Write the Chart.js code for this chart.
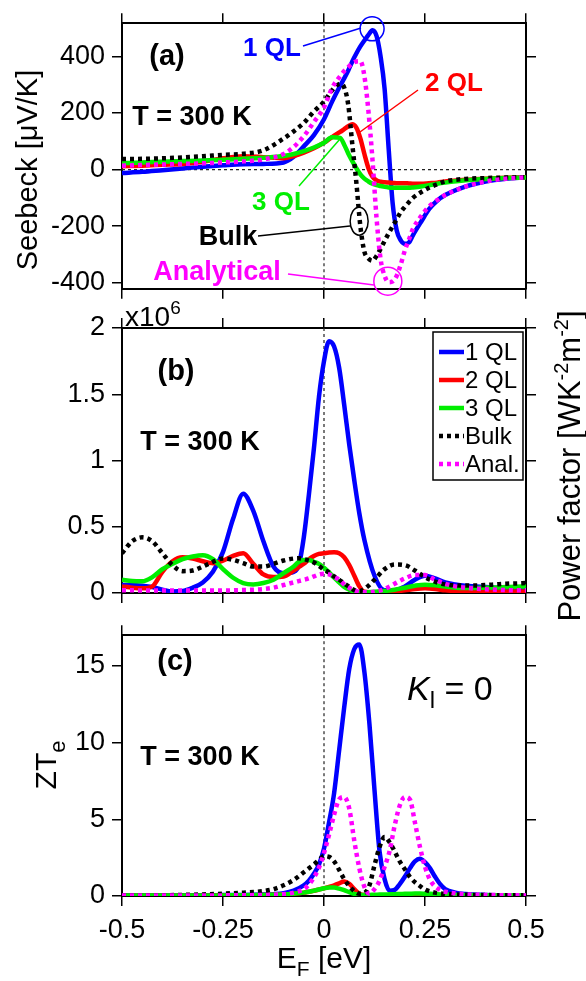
<!DOCTYPE html>
<html>
<head>
<meta charset="utf-8">
<script src="https://cdn.jsdelivr.net/npm/chart.js@4.4.1/dist/chart.umd.min.js"></script>
<style>
  html, body { margin: 0; padding: 0; background: #fff; }
  #wrap { position: relative; width: 586px; height: 981px; overflow: hidden; }
  canvas { position: absolute; left: 0; }
</style>
</head>
<body>
<div id="wrap">
  <canvas id="chartA" width="586" height="312" style="top:0px;width:586px;height:312px"></canvas>
  <canvas id="chartB" width="586" height="344" style="top:296px;width:586px;height:344px"></canvas>
  <canvas id="chartC" width="586" height="369" style="top:612px;width:586px;height:369px"></canvas>
</div>
<script>
// ---- data ----
const seriesNames = ['1 QL', '2 QL', '3 QL', 'Bulk', 'Anal.'];
const energyTicks = [-0.5, -0.25, 0, 0.25, 0.5];
const seebeckTicks = [-400, -200, 0, 200, 400];
const powerTicks = [0, 0.5, 1, 1.5, 2];
const ztTicks = [0, 5, 10, 15];

// (a) Seebeck [uV/K]
const energyA = [-0.5, -0.45, -0.4, -0.35, -0.3, -0.25, -0.2, -0.15, -0.1, -0.075, -0.05, -0.025, 0,
  0.02, 0.04, 0.05, 0.06, 0.07, 0.08, 0.09, 0.1, 0.11, 0.12, 0.13, 0.14, 0.15, 0.16, 0.17, 0.18, 0.19, 0.2,
  0.21, 0.22, 0.24, 0.26, 0.28, 0.3, 0.35, 0.4, 0.45, 0.5];
const seebeck1QL = [-12, -8, -2, 4, 10, 15, 19, 20, 25, 45, 82, 122, 178,
  240, 296, 322, 350, 382, 410, 435, 456, 476, 492, 472, 400, 285, 75, -120, -215, -250, -262,
  -258, -232, -185, -140, -110, -90, -60, -42, -32, -27];
const seebeck2QL = [12, 14, 17, 20, 28, 40, 47, 44, 40, 48, 60, 75, 95,
  115, 133, 143, 153, 160, 148, 110, 55, 5, -25, -38, -43, -45, -46, -47, -48, -48, -48,
  -49, -50, -50, -48, -46, -42, -36, -32, -29, -27];
const seebeck3QL = [23, 25, 28, 30, 32, 35, 38, 42, 48, 55, 65, 78, 95,
  114, 112, 88, 57, 30, 5, -17, -32, -42, -50, -55, -58, -61, -63, -64, -64, -64, -64,
  -64, -63, -60, -55, -50, -46, -38, -33, -30, -28];
const seebeckBulk = [37, 38, 40, 43, 47, 52, 56, 68, 110, 135, 165, 205, 240,
  280, 303, 290, 229, 90, -45, -200, -290, -314, -322, -305, -280, -252, -225, -200, -175, -150, -132,
  -115, -100, -80, -64, -52, -42, -33, -30, -28, -27];
const seebeckAnal = [14, 16, 18, 20, 22, 25, 29, 36, 55, 80, 118, 168, 220,
  288, 330, 348, 362, 375, 382, 383, 330, 206, 35, -170, -315, -375, -398, -395, -375, -335, -286,
  -248, -210, -165, -130, -108, -90, -60, -42, -32, -27];

// (b) Power factor [x10^6 W K^-2 m^-2]
const energyB = [-0.5, -0.475, -0.45, -0.425, -0.4, -0.375, -0.35, -0.325, -0.3, -0.275, -0.25, -0.225,
  -0.2, -0.175, -0.15, -0.125, -0.1, -0.075,
  -0.0625, -0.05, -0.0375, -0.025, -0.0125, 0, 0.0125, 0.025, 0.0375, 0.05, 0.0625, 0.075, 0.0875, 0.1,
  0.125, 0.15, 0.175, 0.2, 0.225, 0.25, 0.275, 0.3, 0.325, 0.35, 0.375, 0.4, 0.425, 0.45, 0.475, 0.5];
const power1QL = [0.06, 0.06, 0.055, 0.045, 0.025, 0.012, 0.015, 0.04, 0.08, 0.16, 0.31, 0.56, 0.75, 0.62, 0.39, 0.2, 0.15, 0.16,
  0.21, 0.42, 0.74, 1.09, 1.48, 1.75, 1.9, 1.86, 1.7, 1.42, 1.12, 0.85, 0.6, 0.4,
  0.13, 0.02, 0.02, 0.05, 0.1, 0.13, 0.11, 0.08, 0.065, 0.055, 0.05, 0.045, 0.04, 0.035, 0.03, 0.03];
const power2QL = [0.05, 0.04, 0.035, 0.05, 0.16, 0.24, 0.27, 0.26, 0.24, 0.225, 0.245, 0.28, 0.3, 0.22, 0.14, 0.12, 0.125, 0.17,
  0.195, 0.22, 0.255, 0.28, 0.295, 0.3, 0.305, 0.307, 0.3, 0.27, 0.21, 0.13, 0.05, 0.01,
  0.005, 0.008, 0.012, 0.02, 0.03, 0.035, 0.03, 0.02, 0.015, 0.012, 0.012, 0.012, 0.012, 0.012, 0.012, 0.012];
const power3QL = [0.1, 0.09, 0.088, 0.12, 0.18, 0.22, 0.255, 0.275, 0.285, 0.255, 0.18, 0.115, 0.075, 0.065, 0.075, 0.1, 0.15, 0.2,
  0.235, 0.25, 0.25, 0.235, 0.22, 0.19, 0.155, 0.115, 0.08, 0.045, 0.025, 0.01, 0.005, 0.005,
  0.01, 0.015, 0.025, 0.04, 0.055, 0.063, 0.058, 0.048, 0.04, 0.038, 0.038, 0.04, 0.042, 0.045, 0.048, 0.05];
const powerBulk = [0.3, 0.39, 0.42, 0.39, 0.3, 0.21, 0.165, 0.17, 0.2, 0.235, 0.26, 0.25, 0.225, 0.2, 0.2, 0.22, 0.245, 0.26,
  0.262, 0.256, 0.245, 0.23, 0.205, 0.175, 0.155, 0.125, 0.1, 0.072, 0.045, 0.022, 0.015, 0.03,
  0.1, 0.18, 0.215, 0.21, 0.17, 0.12, 0.085, 0.065, 0.058, 0.056, 0.057, 0.06, 0.065, 0.07, 0.072, 0.075];
const powerAnal = [0.02, 0.02, 0.018, 0.018, 0.018, 0.018, 0.018, 0.018, 0.018, 0.018, 0.019, 0.02, 0.022, 0.025, 0.03, 0.04, 0.06, 0.08,
  0.09, 0.1, 0.11, 0.125, 0.14, 0.145, 0.14, 0.12, 0.1, 0.065, 0.04, 0.02, 0.007, 0.005,
  0.01, 0.03, 0.07, 0.11, 0.135, 0.135, 0.1, 0.07, 0.05, 0.04, 0.032, 0.028, 0.025, 0.022, 0.02, 0.02];

// (c) ZT_e
const energyC = [-0.5, -0.45, -0.4, -0.35, -0.3, -0.25, -0.2, -0.15, -0.125, -0.1, -0.075, -0.05,
  -0.0375, -0.025, -0.0125, 0, 0.0125, 0.025, 0.0375, 0.05, 0.0625, 0.075,
  0.0875, 0.1, 0.1125, 0.125, 0.1375, 0.15, 0.1625, 0.175, 0.1875, 0.2,
  0.2125, 0.225, 0.2375, 0.25, 0.2625, 0.275, 0.2875, 0.3,
  0.325, 0.35, 0.4, 0.45, 0.5];
const zt1QL = [0.05, 0.05, 0.05, 0.05, 0.05, 0.06, 0.07, 0.1, 0.12, 0.18, 0.35, 0.7,
  1.0, 1.45, 2.05, 3.1, 4.8, 6.7, 9.5, 12.3, 14.8, 16.1,
  16.4, 14.6, 11.2, 6.9, 2.9, 1.1, 0.35, 0.4, 0.77, 1.25,
  1.8, 2.25, 2.42, 2.2, 1.8, 1.25, 0.77, 0.45,
  0.22, 0.13, 0.07, 0.05, 0.05];
const zt2QL = [0.02, 0.02, 0.02, 0.02, 0.02, 0.03, 0.04, 0.06, 0.08, 0.1, 0.15, 0.22,
  0.28, 0.34, 0.42, 0.5, 0.6, 0.7, 0.82, 0.95, 0.8, 0.45,
  0.15, 0.06, 0.05, 0.05, 0.05, 0.05, 0.06, 0.07, 0.08, 0.09,
  0.1, 0.1, 0.1, 0.09, 0.08, 0.07, 0.06, 0.05,
  0.05, 0.04, 0.03, 0.03, 0.03];
const zt3QL = [0.03, 0.03, 0.03, 0.03, 0.03, 0.04, 0.05, 0.07, 0.08, 0.1, 0.15, 0.22,
  0.28, 0.35, 0.42, 0.5, 0.55, 0.55, 0.48, 0.38, 0.25, 0.14,
  0.08, 0.06, 0.07, 0.08, 0.09, 0.1, 0.11, 0.12, 0.13, 0.14,
  0.15, 0.16, 0.16, 0.15, 0.14, 0.12, 0.1, 0.09,
  0.07, 0.06, 0.05, 0.05, 0.05];
const ztBulk = [0.03, 0.04, 0.05, 0.07, 0.1, 0.15, 0.22, 0.32, 0.45, 0.7, 1.05, 1.55,
  1.8, 2.05, 2.35, 2.6, 2.55, 2.25, 1.7, 1.1, 0.65, 0.32,
  0.15, 0.2, 0.7, 2.0, 3.2, 3.85, 3.5, 2.9, 2.25, 1.75,
  1.25, 0.9, 0.65, 0.42, 0.3, 0.22, 0.17, 0.14,
  0.1, 0.08, 0.06, 0.05, 0.04];
const ztAnal = [0.03, 0.03, 0.03, 0.03, 0.03, 0.04, 0.05, 0.07, 0.08, 0.12, 0.22, 0.45,
  0.75, 1.2, 1.85, 2.8, 4.0, 5.3, 6.3, 6.45, 5.7, 3.6,
  1.8, 0.6, 0.15, 0.45, 1.0, 1.9, 2.95, 4.6, 5.9, 6.45,
  6.3, 4.8, 3.2, 1.9, 1.05, 0.62, 0.4, 0.28,
  0.17, 0.11, 0.07, 0.05, 0.04];

// ---- styling ----
const FONT = '"Liberation Sans", Arial, Helvetica, sans-serif';
const seriesColors = ['#0000ff', '#ff0000', '#00ee00', '#000000', '#ff00ff'];
const dotted = [false, false, false, true, true];

function lineSets(grid, series) {
  return series.map((vals, i) => ({
    label: seriesNames[i],
    data: grid.map((e, k) => ({ x: e, y: vals[k] })),
    borderColor: seriesColors[i],
    backgroundColor: seriesColors[i],
    borderWidth: 4.5,
    borderDash: dotted[i] ? [4, 4] : [],
    borderCapStyle: 'butt',
    pointRadius: 0,
    cubicInterpolationMode: 'monotone',
    fill: false,
    order: series.length - i
  }));
}

function axes(cfg) {
  const grid = { drawOnChartArea: false, drawTicks: true, tickLength: 10, color: '#000', lineWidth: 1.5 };
  const border = { display: true, color: '#000', width: 2 };
  const tickFont = { family: FONT, size: 27 };
  const xTicks = s => { s.ticks = energyTicks.map(v => ({ value: v })); };
  const yTicks = s => { s.ticks = cfg.yTicks.map(v => ({ value: v })); };
  return {
    x: {
      type: 'linear', position: 'bottom', min: -0.5, max: 0.5, grid, border,
      ticks: { display: !!cfg.xLabels, font: tickFont, color: '#000', padding: 8, maxRotation: 0, autoSkip: false,
        callback: v => String(v) },
      afterBuildTicks: xTicks,
      afterFit: s => { s.height = cfg.bottom; }
    },
    xTop: {
      type: 'linear', position: 'top', min: -0.5, max: 0.5, grid, border,
      ticks: { display: false },
      afterBuildTicks: xTicks,
      afterFit: s => { s.height = cfg.top; }
    },
    y: {
      type: 'linear', position: 'left', min: cfg.yMin, max: cfg.yMax, grid, border,
      ticks: { font: tickFont, color: '#000', padding: 7, autoSkip: false, callback: v => String(v) },
      afterBuildTicks: yTicks,
      afterFit: s => { s.width = 122; }
    },
    yRight: {
      type: 'linear', position: 'right', min: cfg.yMin, max: cfg.yMax, grid, border,
      ticks: { display: false },
      afterBuildTicks: yTicks,
      afterFit: s => { s.width = 60; }
    }
  };
}

// dashed zero lines
const zeroLines = {
  id: 'zeroLines',
  beforeDatasetsDraw(chart, args, opts) {
    const { ctx, chartArea: a, scales } = chart;
    ctx.save();
    ctx.strokeStyle = '#222';
    ctx.lineWidth = 1.2;
    ctx.setLineDash([3, 3]);
    ctx.beginPath();
    const px = scales.x.getPixelForValue(0);
    ctx.moveTo(px, a.top);
    ctx.lineTo(px, a.bottom);
    if (opts.horizontal) {
      const py = scales.y.getPixelForValue(0);
      ctx.moveTo(a.left, py);
      ctx.lineTo(a.right, py);
    }
    ctx.stroke();
    ctx.restore();
  }
};

function font(size, bold, italic) {
  return (italic ? 'italic ' : '') + (bold ? 'bold ' : '') + size + 'px ' + FONT;
}

function label(ctx, txt, x, y, size, color, bold) {
  ctx.font = font(size, bold);
  ctx.fillStyle = color || '#000';
  ctx.textAlign = 'center';
  ctx.textBaseline = 'middle';
  ctx.fillText(txt, x, y);
}

// text with sub/superscripts: parts = [[text, size, dy, italic]]
function rich(ctx, parts, x, y, align) {
  ctx.textAlign = 'left';
  ctx.textBaseline = 'alphabetic';
  ctx.fillStyle = '#000';
  let w = 0;
  parts.forEach(p => { ctx.font = font(p[1], false, p[3]); w += ctx.measureText(p[0]).width; });
  let cx = align === 'center' ? x - w / 2 : x;
  parts.forEach(p => {
    ctx.font = font(p[1], false, p[3]);
    ctx.fillText(p[0], cx, y + (p[2] || 0));
    cx += ctx.measureText(p[0]).width;
  });
}

function pointer(ctx, color, x1, y1, x2, y2) {
  ctx.strokeStyle = color;
  ctx.lineWidth = 1.5;
  ctx.setLineDash([]);
  ctx.beginPath();
  ctx.moveTo(x1, y1);
  ctx.lineTo(x2, y2);
  ctx.stroke();
}

function ring(ctx, color, x, y, rx, ry) {
  ctx.strokeStyle = color;
  ctx.lineWidth = 1.5;
  ctx.beginPath();
  ctx.ellipse(x, y, rx, ry, 0, 0, Math.PI * 2);
  ctx.stroke();
}

const decorA = {
  id: 'decorA',
  afterDraw(chart) {
    const { ctx, scales: { x, y } } = chart;
    ctx.save();
    label(ctx, '(a)', 167, 57, 29, '#000', true);
    label(ctx, 'T = 300 K', 192, 118, 27, '#000', true);
    label(ctx, '1 QL', 272, 49, 26, '#0000ff', true);
    pointer(ctx, '#0000ff', 303, 46, 361, 28);
    ring(ctx, '#0000ff', x.getPixelForValue(0.119), y.getPixelForValue(497), 12, 12);
    label(ctx, '2 QL', 454, 84, 26, '#ff0000', true);
    pointer(ctx, '#ff0000', 418, 90, 360, 132);
    label(ctx, '3 QL', 281, 203, 26, '#00ee00', true);
    pointer(ctx, '#00ee00', 299, 186, 340, 139);
    label(ctx, 'Bulk', 228, 238, 27, '#000', true);
    pointer(ctx, '#000', 258, 236, 350, 226);
    ring(ctx, '#000', x.getPixelForValue(0.087), y.getPixelForValue(-182), 9, 14);
    label(ctx, 'Analytical', 217, 273, 27, '#ff00ff', true);
    pointer(ctx, '#ff00ff', 288, 274, 374, 285);
    ring(ctx, '#ff00ff', x.getPixelForValue(0.158), y.getPixelForValue(-394), 14, 14);
    ctx.translate(37, 170);
    ctx.rotate(-Math.PI / 2);
    rich(ctx, [['Seebeck [\u03bcV/K]', 29]], 0, 0, 'center');
    ctx.restore();
  }
};

const decorB = {
  id: 'decorB',
  afterDraw(chart) {
    const ctx = chart.ctx;
    const ds = chart.data.datasets;
    ctx.save();
    rich(ctx, [['x10', 28], ['6', 19, -12]], 125, 30, 'left');
    label(ctx, '(b)', 176, 76, 29, '#000', true);
    label(ctx, 'T = 300 K', 200, 147, 27, '#000', true);
    // legend box
    ctx.strokeStyle = '#000';
    ctx.lineWidth = 1.5;
    ctx.strokeRect(433, 36, 90, 148);
    ds.forEach((d, i) => {
      const yy = 56 + i * 28;
      ctx.strokeStyle = d.borderColor;
      ctx.lineWidth = 4.5;
      ctx.lineCap = 'butt';
      ctx.setLineDash(d.borderDash);
      ctx.beginPath();
      ctx.moveTo(439, yy);
      ctx.lineTo(464, yy);
      ctx.stroke();
      ctx.setLineDash([]);
      ctx.font = font(24);
      ctx.fillStyle = '#000';
      ctx.textAlign = 'left';
      ctx.textBaseline = 'middle';
      ctx.fillText(d.label, 465, yy + 1);
    });
    // right-hand axis title
    ctx.translate(580, 170);
    ctx.rotate(-Math.PI / 2);
    rich(ctx, [['Power factor [WK', 31], ['-2', 20, -12], ['m', 31], ['-2', 20, -12], [']', 31]], 0, 0, 'center');
    ctx.restore();
  }
};

const decorC = {
  id: 'decorC',
  afterDraw(chart) {
    const ctx = chart.ctx;
    ctx.save();
    label(ctx, '(c)', 175, 50, 29, '#000', true);
    label(ctx, 'T = 300 K', 200, 146, 27, '#000', true);
    rich(ctx, [['K', 34, 0, true], ['l', 24, 8], [' = 0', 34]], 407, 88, 'left');
    rich(ctx, [['E', 30], ['F', 21, 8], [' [eV]', 30]], 324, 356, 'center');
    ctx.translate(56, 153);
    ctx.rotate(-Math.PI / 2);
    rich(ctx, [['ZT', 30], ['e', 22, 9]], 0, 0, 'center');
    ctx.restore();
  }
};

function makeChart(id, grid, series, cfg, decor, horizontalZero) {
  return new Chart(document.getElementById(id), {
    type: 'line',
    data: { datasets: lineSets(grid, series) },
    options: {
      responsive: false,
      animation: false,
      events: [],
      layout: { padding: 0 },
      scales: axes(cfg),
      plugins: {
        legend: { display: false },
        tooltip: { enabled: false },
        zeroLines: { horizontal: horizontalZero }
      }
    },
    plugins: [zeroLines, decor]
  });
}

makeChart('chartA', energyA, [seebeck1QL, seebeck2QL, seebeck3QL, seebeckBulk, seebeckAnal],
  { yMin: -421, yMax: 517, yTicks: seebeckTicks, top: 19, bottom: 19 }, decorA, true);
makeChart('chartB', energyB, [power1QL, power2QL, power3QL, powerBulk, powerAnal],
  { yMin: 0, yMax: 2, yTicks: powerTicks, top: 32, bottom: 47 }, decorB, false);
makeChart('chartC', energyC, [zt1QL, zt2QL, zt3QL, ztBulk, ztAnal],
  { yMin: 0, yMax: 17, yTicks: ztTicks, top: 11, bottom: 85, xLabels: true }, decorC, false);
</script>
</body>
</html>
